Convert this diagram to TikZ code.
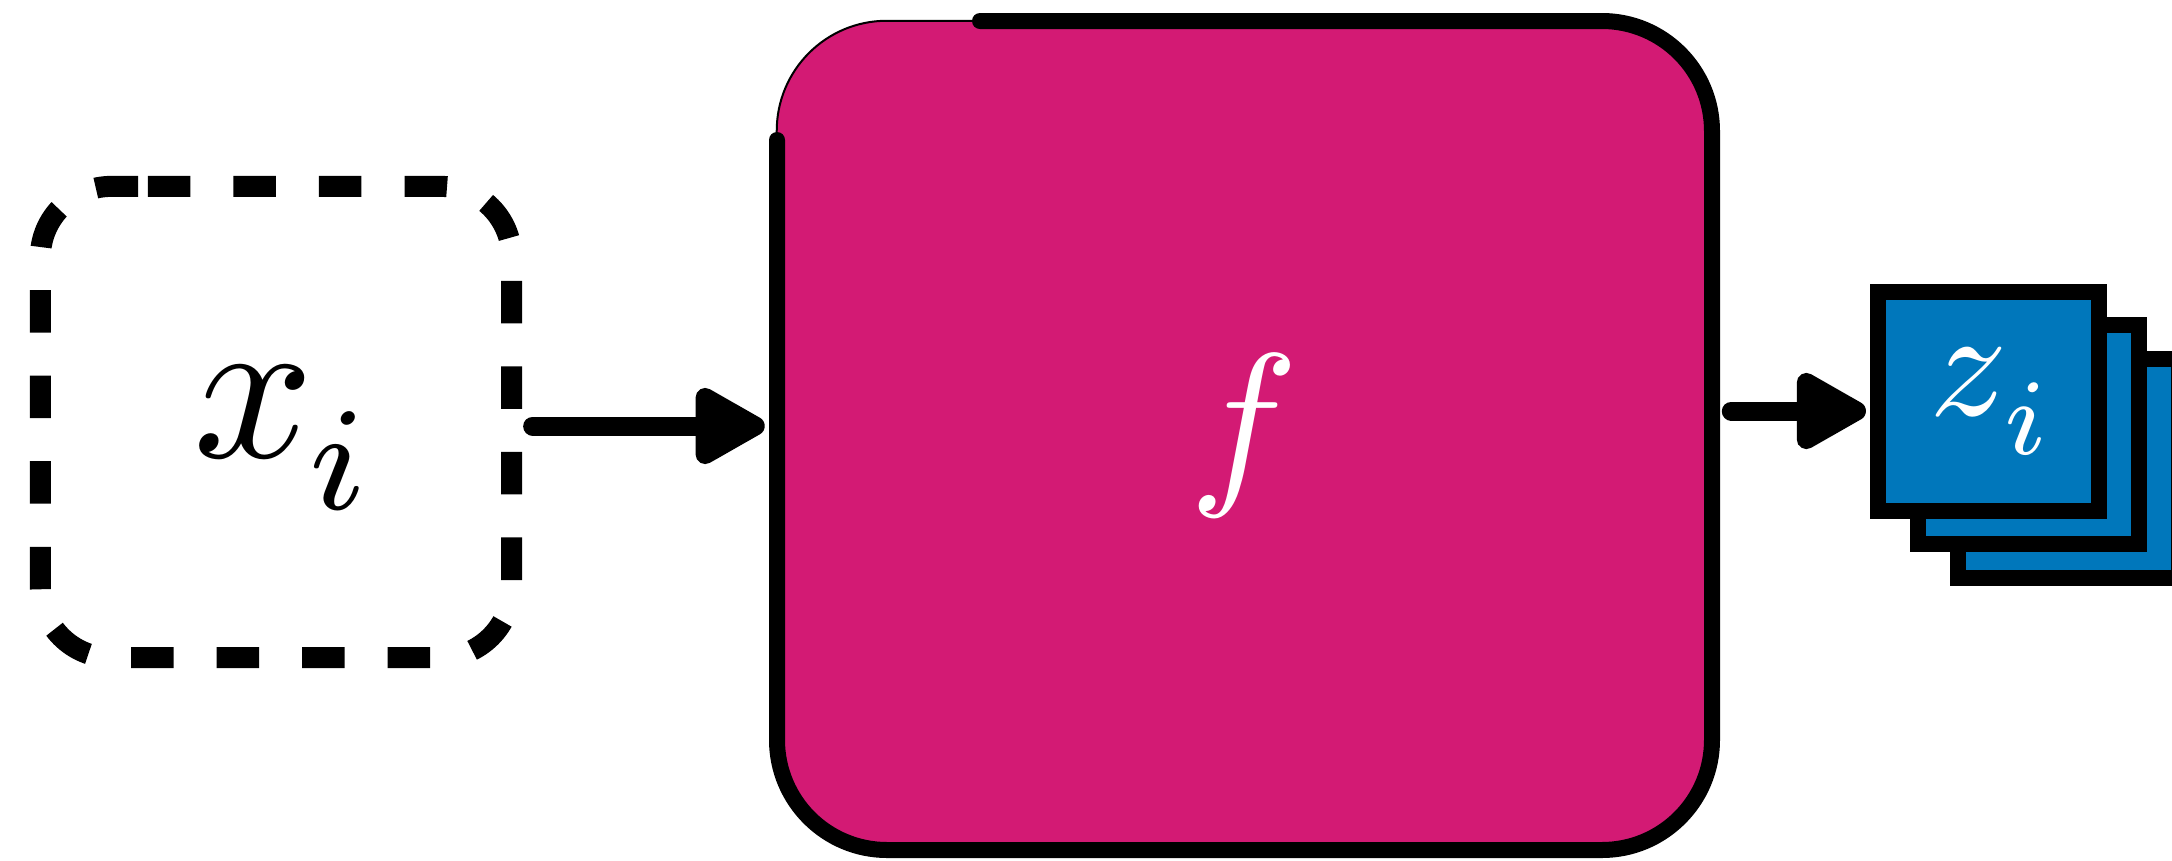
\documentclass[tikz,border=0pt]{standalone}
\usetikzlibrary{arrows.meta,calc,positioning}

\definecolor{encmagenta}{RGB}{211,26,116}
\definecolor{embblue}{RGB}{0,119,187}

% italic symbol with a lowered index, blown up by #1
\newcommand{\withsub}[3]{\scalebox{#1}{$#2$\kern-0.03em\raisebox{-0.25em}{$\scriptstyle #3$}}}

\tikzset{
  inbox/.style={minimum width=4.71cm, minimum height=4.71cm, inner sep=0pt, outer sep=0pt},
  dashline/.style={line width=0.21cm, dash pattern=on 0.425cm off 0.43cm,
    rounded corners=0.71cm},
  encbox/.style={fill=encmagenta, draw, line width=0.02cm, rounded corners=1.1cm,
    minimum width=9.35cm, minimum height=8.29cm, inner sep=0pt},
  rim/.style={line width=0.16cm, line cap=round, rounded corners=1.1cm},
  embsq/.style={fill=embblue, draw, line width=0.16cm, minimum width=2.21cm,
    minimum height=2.19cm, inner sep=0pt},
  flow/.style={line width=0.19cm, line cap=round,
    -{Triangle[length=0.8cm,width=0.84cm,round]}},
}

\begin{document}
\begin{tikzpicture}[x=0.01cm, y=-0.01cm]
  \useasboundingbox (0,0) rectangle (2172,860);

  % input sample, dashed outline run clockwise from near the top left
  \node[inbox] (x) at (276,422) {};
  \coordinate (xs) at ($(x.north west)+(107.5,0)$);
  \draw[dashline] (xs) -- (x.north east) -- (x.south east)
    -- (x.south west) -- (x.north west) -- (xs);
  \node (xlab) at (280,438) {\withsub{6}{x}{i}};

  % encoder, heavy outline left open at the top left
  \node[encbox, text=white] (f) at (1244.5,435.5) {\scalebox{5.2}{$f$}};
  \draw[rim] (980,21) -- (1712,21) -- (1712,850) -- (777,850) -- (777,140);

  % stack of embeddings, back to front
  \node[embsq] (z3) at (2068.5,468.5) {};
  \node[embsq] (z2) at (2028.5,434.5) {};
  \node[embsq, text=white] (z1) at (1988.5,401.5) {\withsub{4.4}{z}{i}};

  \coordinate (a1) at ($(x.east)+(0,4)$);
  \coordinate (a2) at ($(z1.west)+(0,9.5)$);
  \draw[flow, shorten <=0.21cm, shorten >=0.11cm] (a1) -- (a1 -| f.west);
  \draw[flow, shorten <=0.18cm, shorten >=0.04cm] (a2 -| f.east) -- (a2);
\end{tikzpicture}
\end{document}
